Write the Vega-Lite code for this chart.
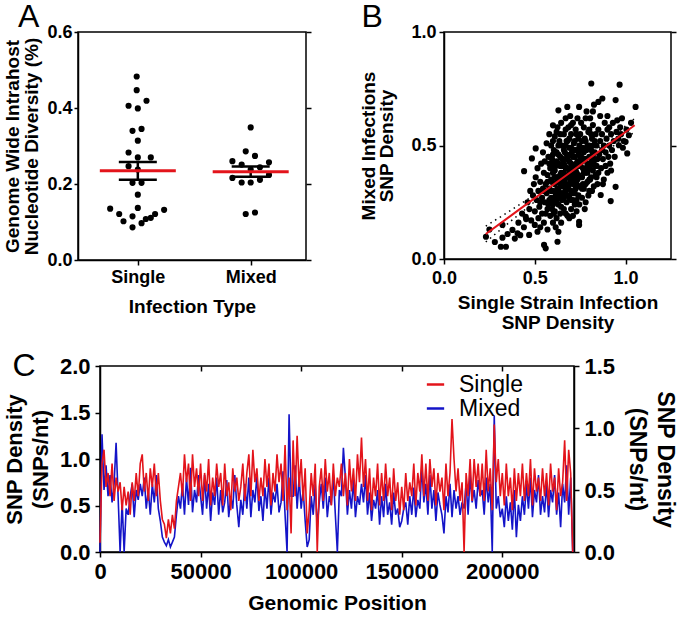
{
"$schema":"https://vega.github.io/schema/vega-lite/v6.json",
"padding":{"left":2,"top":0,"right":0,"bottom":0},
"config":{
 "font":"Liberation Sans",
 "view":{"stroke":"black","strokeWidth":1.5},
 "axis":{"grid":false,"domainColor":"black","domainWidth":1.5,"tickColor":"black","tickWidth":1.5,"tickSize":5,"labelColor":"black","labelFont":"Liberation Sans","labelFontWeight":"bold","labelFontSize":18,"titleColor":"black","titleFont":"Liberation Sans","titleFontWeight":"bold","titleFontSize":19,"labelPadding":3,"titlePadding":4,"labelFlush":false,"labelOverlap":false},
 "title":{"font":"Liberation Sans","fontSize":32,"fontWeight":"normal","color":"black","anchor":"start","frame":"bounds","baseline":"alphabetic","offset":5}
},
"datasets":{
 "divA":[
  {"g":"Single","x":0.99,"v":0.483},{"g":"Single","x":0.99,"v":0.447},{"g":"Single","x":1.077,"v":0.419},{"g":"Single","x":0.918,"v":0.406},{"g":"Single","x":1.0,"v":0.399},{"g":"Single","x":0.953,"v":0.34},{"g":"Single","x":1.033,"v":0.345},{"g":"Single","x":1.0,"v":0.314},{"g":"Single","x":0.918,"v":0.283},{"g":"Single","x":1.0,"v":0.27},{"g":"Single","x":1.115,"v":0.27},{"g":"Single","x":0.918,"v":0.247},{"g":"Single","x":1.0,"v":0.238},{"g":"Single","x":0.953,"v":0.203},{"g":"Single","x":1.033,"v":0.203},{"g":"Single","x":1.0,"v":0.172},{"g":"Single","x":1.0,"v":0.137},{"g":"Single","x":0.755,"v":0.135},{"g":"Single","x":0.835,"v":0.121},{"g":"Single","x":0.953,"v":0.115},{"g":"Single","x":1.233,"v":0.132},{"g":"Single","x":1.153,"v":0.121},{"g":"Single","x":1.071,"v":0.108},{"g":"Single","x":1.115,"v":0.111},{"g":"Single","x":0.873,"v":0.102},{"g":"Single","x":1.033,"v":0.097},{"g":"Single","x":0.953,"v":0.086},
  {"g":"Mixed","x":2.0,"v":0.349},{"g":"Mixed","x":1.956,"v":0.286},{"g":"Mixed","x":2.038,"v":0.274},{"g":"Mixed","x":1.838,"v":0.26},{"g":"Mixed","x":1.92,"v":0.251},{"g":"Mixed","x":2.082,"v":0.244},{"g":"Mixed","x":2.162,"v":0.257},{"g":"Mixed","x":2.0,"v":0.238},{"g":"Mixed","x":1.838,"v":0.216},{"g":"Mixed","x":1.92,"v":0.204},{"g":"Mixed","x":2.0,"v":0.204},{"g":"Mixed","x":2.082,"v":0.211},{"g":"Mixed","x":2.162,"v":0.224},{"g":"Mixed","x":1.956,"v":0.121},{"g":"Mixed","x":2.038,"v":0.125}
 ],
 "sumA":[{"g":"Single","x":1,"mean":0.235,"lo":0.211,"hi":0.258},{"g":"Mixed","x":2,"mean":0.232,"lo":0.219,"hi":0.246}],
 "fit":[{"x":0.23,"fit":0.11,"lo":0.075,"hi":0.145},{"x":0.35,"fit":0.18,"lo":0.155,"hi":0.205},{"x":0.5,"fit":0.268,"lo":0.253,"hi":0.283},{"x":0.67,"fit":0.367,"lo":0.357,"hi":0.377},{"x":0.85,"fit":0.472,"lo":0.455,"hi":0.489},{"x":1.05,"fit":0.589,"lo":0.559,"hi":0.619}],
 "sc":[
  {"x":0.231,"y":0.098},{"x":0.25,"y":0.13},{"x":0.28,"y":0.075},{"x":0.313,"y":0.054},{"x":0.322,"y":0.094},{"x":0.341,"y":0.054},{"x":0.322,"y":0.15},{"x":0.35,"y":0.11},{"x":0.377,"y":0.128},{"x":0.39,"y":0.09},{"x":0.405,"y":0.113},{"x":0.41,"y":0.16},{"x":0.42,"y":0.105},{"x":0.43,"y":0.2},{"x":0.441,"y":0.387},{"x":0.44,"y":0.14},{"x":0.45,"y":0.186},{"x":0.452,"y":0.176},{"x":0.46,"y":0.25},{"x":0.469,"y":0.106},{"x":0.47,"y":0.22},{"x":0.475,"y":0.3},
  {"x":0.484,"y":0.443},{"x":0.505,"y":0.487},{"x":0.48,"y":0.17},{"x":0.49,"y":0.28},{"x":0.495,"y":0.33},{"x":0.5,"y":0.15},{"x":0.5,"y":0.21},{"x":0.505,"y":0.36},{"x":0.51,"y":0.26},{"x":0.515,"y":0.12},{"x":0.515,"y":0.4},{"x":0.52,"y":0.18},{"x":0.52,"y":0.3},{"x":0.525,"y":0.23},{"x":0.53,"y":0.34},{"x":0.53,"y":0.14},{"x":0.535,"y":0.42},{"x":0.54,"y":0.27},{"x":0.54,"y":0.2},{"x":0.545,"y":0.31},{"x":0.545,"y":0.47},{"x":0.55,"y":0.38},{"x":0.55,"y":0.16},{"x":0.551,"y":0.062},{"x":0.56,"y":0.047},{"x":0.555,"y":0.25},{"x":0.555,"y":0.43},{"x":0.56,"y":0.33},{"x":0.56,"y":0.2},{"x":0.565,"y":0.29},{"x":0.565,"y":0.51},{"x":0.57,"y":0.37},{"x":0.57,"y":0.13},{"x":0.575,"y":0.24},{"x":0.575,"y":0.45},{"x":0.58,"y":0.31},{"x":0.58,"y":0.55},{"x":0.585,"y":0.19},{"x":0.585,"y":0.4},{"x":0.59,"y":0.27},
  {"x":0.59,"y":0.35},{"x":0.59,"y":0.5},{"x":0.595,"y":0.22},{"x":0.595,"y":0.44},{"x":0.6,"y":0.589},{"x":0.6,"y":0.3},{"x":0.6,"y":0.16},{"x":0.6,"y":0.38},{"x":0.605,"y":0.26},{"x":0.605,"y":0.48},{"x":0.61,"y":0.33},{"x":0.61,"y":0.21},{"x":0.61,"y":0.54},{"x":0.615,"y":0.41},{"x":0.615,"y":0.28},{"x":0.62,"y":0.36},{"x":0.62,"y":0.18},{"x":0.62,"y":0.47},{"x":0.625,"y":0.076},{"x":0.625,"y":0.31},{"x":0.625,"y":0.58},{"x":0.63,"y":0.655},{"x":0.63,"y":0.24},{"x":0.63,"y":0.42},{"x":0.635,"y":0.35},{"x":0.635,"y":0.52},{"x":0.64,"y":0.29},{"x":0.64,"y":0.2},{"x":0.64,"y":0.45},{"x":0.645,"y":0.38},{"x":0.645,"y":0.6},{"x":0.65,"y":0.32},{"x":0.65,"y":0.26},{"x":0.65,"y":0.5},{"x":0.6,"y":0.43},{"x":0.61,"y":0.39},{"x":0.62,"y":0.25},{"x":0.63,"y":0.3},{"x":0.64,"y":0.37},{"x":0.65,"y":0.41},{"x":0.595,"y":0.34},{"x":0.605,"y":0.2},{"x":0.615,"y":0.47},{"x":0.625,"y":0.36},{"x":0.635,"y":0.27},{"x":0.645,"y":0.23},{"x":0.6,"y":0.52},{"x":0.62,"y":0.56},{"x":0.64,"y":0.55},{"x":0.59,"y":0.41},{"x":0.61,"y":0.27},{"x":0.63,"y":0.46},{"x":0.65,"y":0.35},{"x":0.615,"y":0.14},{"x":0.645,"y":0.16},{"x":0.63,"y":0.12},
  {"x":0.655,"y":0.44},{"x":0.655,"y":0.29},{"x":0.66,"y":0.38},{"x":0.66,"y":0.55},{"x":0.66,"y":0.22},{"x":0.665,"y":0.34},{"x":0.665,"y":0.47},{"x":0.67,"y":0.62},{"x":0.67,"y":0.3},{"x":0.67,"y":0.4},{"x":0.675,"y":0.25},{"x":0.675,"y":0.52},{"x":0.679,"y":0.67},{"x":0.68,"y":0.36},{"x":0.68,"y":0.44},{"x":0.68,"y":0.19},{"x":0.685,"y":0.31},{"x":0.685,"y":0.58},{"x":0.69,"y":0.39},{"x":0.69,"y":0.27},{"x":0.69,"y":0.49},{"x":0.695,"y":0.35},{"x":0.695,"y":0.63},{"x":0.7,"y":0.42},{"x":0.7,"y":0.3},{"x":0.7,"y":0.22},{"x":0.7,"y":0.55},{"x":0.705,"y":0.37},{"x":0.705,"y":0.47},{"x":0.71,"y":0.33},{"x":0.71,"y":0.6},{"x":0.71,"y":0.26},{"x":0.715,"y":0.41},{"x":0.715,"y":0.51},{"x":0.72,"y":0.36},{"x":0.72,"y":0.29},{"x":0.72,"y":0.45},{"x":0.725,"y":0.57},{"x":0.725,"y":0.39},{"x":0.73,"y":0.33},{"x":0.73,"y":0.48},{"x":0.73,"y":0.21},{"x":0.735,"y":0.43},{"x":0.735,"y":0.62},{"x":0.74,"y":0.37},{"x":0.74,"y":0.28},{"x":0.744,"y":0.67},{"x":0.744,"y":0.15},{"x":0.744,"y":0.164},{"x":0.745,"y":0.5},{"x":0.75,"y":0.41},{"x":0.75,"y":0.32},{"x":0.75,"y":0.55},{"x":0.66,"y":0.32},{"x":0.67,"y":0.5},{"x":0.68,"y":0.28},{"x":0.69,"y":0.43},{"x":0.7,"y":0.36},{"x":0.71,"y":0.45},{"x":0.72,"y":0.4},{"x":0.73,"y":0.38},{"x":0.74,"y":0.46},{"x":0.665,"y":0.41},{"x":0.675,"y":0.46},{"x":0.685,"y":0.37},{"x":0.695,"y":0.46},{"x":0.705,"y":0.29},{"x":0.715,"y":0.35},{"x":0.725,"y":0.31},{"x":0.735,"y":0.35},{"x":0.745,"y":0.24},{"x":0.655,"y":0.36},{"x":0.68,"y":0.52},{"x":0.7,"y":0.49},{"x":0.72,"y":0.52},{"x":0.74,"y":0.53},{"x":0.67,"y":0.2},{"x":0.69,"y":0.18},{"x":0.71,"y":0.19},{"x":0.73,"y":0.26},
  {"x":0.755,"y":0.45},{"x":0.755,"y":0.6},{"x":0.76,"y":0.36},{"x":0.76,"y":0.27},{"x":0.765,"y":0.49},{"x":0.765,"y":0.4},{"x":0.77,"y":0.58},{"x":0.77,"y":0.31},{"x":0.775,"y":0.44},{"x":0.775,"y":0.53},{"x":0.78,"y":0.38},{"x":0.78,"y":0.25},{"x":0.785,"y":0.48},{"x":0.785,"y":0.65},{"x":0.79,"y":0.34},{"x":0.79,"y":0.42},{"x":0.795,"y":0.56},{"x":0.8,"y":0.4},{"x":0.8,"y":0.3},{"x":0.8,"y":0.5},{"x":0.805,"y":0.62},{"x":0.805,"y":0.45},{"x":0.81,"y":0.36},{"x":0.811,"y":0.773},{"x":0.815,"y":0.43},{"x":0.815,"y":0.53},{"x":0.82,"y":0.39},{"x":0.82,"y":0.59},{"x":0.825,"y":0.32},{"x":0.826,"y":0.68},{"x":0.83,"y":0.47},{"x":0.83,"y":0.41},{"x":0.835,"y":0.55},{"x":0.84,"y":0.36},{"x":0.84,"y":0.5},{"x":0.845,"y":0.44},{"x":0.85,"y":0.692},{"x":0.85,"y":0.38},{"x":0.85,"y":0.57},{"x":0.76,"y":0.52},{"x":0.77,"y":0.47},{"x":0.78,"y":0.33},{"x":0.79,"y":0.5},{"x":0.8,"y":0.45},{"x":0.81,"y":0.55},{"x":0.82,"y":0.46},{"x":0.83,"y":0.52},{"x":0.84,"y":0.41},{"x":0.765,"y":0.33},{"x":0.785,"y":0.4},{"x":0.805,"y":0.35},{"x":0.825,"y":0.43},{"x":0.845,"y":0.33},{"x":0.775,"y":0.22},{"x":0.795,"y":0.28},{"x":0.815,"y":0.3},{"x":0.835,"y":0.37},{"x":0.78,"y":0.62},{"x":0.8,"y":0.57},{"x":0.82,"y":0.65},
  {"x":0.855,"y":0.46},{"x":0.86,"y":0.52},{"x":0.863,"y":0.282},{"x":0.865,"y":0.4},{"x":0.87,"y":0.55},{"x":0.872,"y":0.707},{"x":0.875,"y":0.44},{"x":0.88,"y":0.5},{"x":0.88,"y":0.35},{"x":0.885,"y":0.6},{"x":0.89,"y":0.47},{"x":0.89,"y":0.41},{"x":0.895,"y":0.53},{"x":0.9,"y":0.38},{"x":0.9,"y":0.57},{"x":0.905,"y":0.45},{"x":0.91,"y":0.5},{"x":0.915,"y":0.42},{"x":0.918,"y":0.255},{"x":0.92,"y":0.55},{"x":0.925,"y":0.48},{"x":0.93,"y":0.6},{"x":0.935,"y":0.52},{"x":0.94,"y":0.45},{"x":0.945,"y":0.7},{"x":0.945,"y":0.318},{"x":0.95,"y":0.56},{"x":0.954,"y":0.611},{"x":0.86,"y":0.63},{"x":0.875,"y":0.33},{"x":0.9,"y":0.63},{"x":0.92,"y":0.39},{"x":0.87,"y":0.48},{"x":0.91,"y":0.58},
  {"x":0.96,"y":0.53},{"x":0.963,"y":0.501},{"x":0.967,"y":0.768},{"x":0.97,"y":0.58},{"x":0.975,"y":0.55},{"x":0.98,"y":0.62},{"x":0.99,"y":0.52},{"x":1.0,"y":0.516},{"x":1.005,"y":0.57},{"x":1.009,"y":0.465},{"x":1.018,"y":0.545},{"x":1.03,"y":0.6},{"x":1.055,"y":0.67},{"x":0.985,"y":0.49},
  {"x":0.57,"y":0.34},{"x":0.58,"y":0.42},{"x":0.59,"y":0.3},{"x":0.6,"y":0.46},{"x":0.61,"y":0.36},{"x":0.62,"y":0.43},{"x":0.63,"y":0.34},{"x":0.64,"y":0.41},{"x":0.65,"y":0.44},{"x":0.66,"y":0.42},{"x":0.67,"y":0.36},{"x":0.68,"y":0.4},{"x":0.69,"y":0.33},{"x":0.7,"y":0.4},{"x":0.71,"y":0.38},{"x":0.72,"y":0.33},{"x":0.73,"y":0.42},{"x":0.74,"y":0.41},{"x":0.75,"y":0.45},{"x":0.76,"y":0.43},{"x":0.77,"y":0.38},{"x":0.78,"y":0.44},{"x":0.79,"y":0.38},{"x":0.8,"y":0.35},{"x":0.81,"y":0.48},{"x":0.82,"y":0.5},{"x":0.83,"y":0.44},{"x":0.58,"y":0.26},{"x":0.6,"y":0.24},{"x":0.62,"y":0.29},{"x":0.64,"y":0.33},{"x":0.66,"y":0.27},{"x":0.68,"y":0.32},{"x":0.7,"y":0.26},{"x":0.72,"y":0.24},{"x":0.74,"y":0.32},{"x":0.76,"y":0.31},{"x":0.63,"y":0.5},{"x":0.66,"y":0.48},{"x":0.69,"y":0.53},{"x":0.72,"y":0.48},{"x":0.75,"y":0.48},{"x":0.78,"y":0.52},{"x":0.81,"y":0.42},{"x":0.57,"y":0.22},{"x":0.55,"y":0.3},{"x":0.53,"y":0.25},{"x":0.67,"y":0.57},{"x":0.7,"y":0.59},{"x":0.73,"y":0.55}
 ],
 "gen":[
  {"p":0,"s":0.1,"m":0},{"p":1000,"s":0.95,"m":0.95},{"p":2000,"s":1.1,"m":0.5},{"p":3000,"s":0.7,"m":0.7},{"p":4000,"s":0.85,"m":0.45},{"p":5000,"s":0.6,"m":0.62},{"p":6000,"s":0.95,"m":0.4},{"p":7000,"s":0.55,"m":0.55},{"p":8000,"s":0.8,"m":0.88},{"p":9000,"s":0.65,"m":0.45},
  {"p":10000,"s":0.75,"m":0},{"p":11000,"s":0.45,"m":0.4},{"p":12000,"s":0.7,"m":0},{"p":13000,"s":0.5,"m":0.35},{"p":14000,"s":0.65,"m":0.3},{"p":15000,"s":0.4,"m":0.45},{"p":16000,"s":0.75,"m":0.55},{"p":17000,"s":0.55,"m":0.28},{"p":18000,"s":0.85,"m":0.5},{"p":19000,"s":0.6,"m":0.42},
  {"p":20000,"s":0.95,"m":0.55},{"p":21000,"s":1.05,"m":0.45},{"p":22000,"s":0.65,"m":0.6},{"p":23000,"s":0.85,"m":0.35},{"p":24000,"s":0.55,"m":0.5},{"p":25000,"s":0.9,"m":0.3},{"p":26000,"s":0.7,"m":0.55},{"p":27000,"s":0.95,"m":0.4},{"p":28000,"s":0.6,"m":0.62},{"p":29000,"s":0.85,"m":0.35},
  {"p":30000,"s":0.55,"m":0.25},{"p":31000,"s":0.35,"m":0.12},{"p":32000,"s":0.3,"m":0.08},{"p":33000,"s":0.15,"m":0.05},{"p":34000,"s":0.35,"m":0.1},{"p":35000,"s":0.2,"m":0.04},{"p":36000,"s":0.4,"m":0.08},{"p":37000,"s":0.25,"m":0.12},{"p":38000,"s":0.55,"m":0.3},{"p":39000,"s":0.7,"m":0.45},
  {"p":40000,"s":0.85,"m":0.35},{"p":41000,"s":0.6,"m":0.55},{"p":42000,"s":1.05,"m":0.3},{"p":43000,"s":0.75,"m":0.6},{"p":44000,"s":0.95,"m":0.38},{"p":45000,"s":0.55,"m":0.68},{"p":46000,"s":1.05,"m":0.32},{"p":47000,"s":0.7,"m":0.5},{"p":48000,"s":0.9,"m":0.4},{"p":49000,"s":0.6,"m":0.62},
  {"p":50000,"s":0.95,"m":0.45},{"p":51000,"s":0.55,"m":0.3},{"p":52000,"s":0.85,"m":0.62},{"p":53000,"s":0.65,"m":0.35},{"p":54000,"s":1.0,"m":0.55},{"p":55000,"s":0.5,"m":0.25},{"p":56000,"s":0.8,"m":0.48},{"p":57000,"s":0.6,"m":0.38},{"p":58000,"s":0.95,"m":0.6},{"p":59000,"s":0.7,"m":0.3},
  {"p":60000,"s":0.85,"m":0.5},{"p":61000,"s":0.5,"m":0.32},{"p":62000,"s":0.95,"m":0.4},{"p":63000,"s":0.6,"m":0.58},{"p":64000,"s":0.75,"m":0.28},{"p":65000,"s":0.45,"m":0.45},{"p":66000,"s":0.9,"m":0.35},{"p":67000,"s":0.65,"m":0.62},{"p":68000,"s":0.8,"m":0.38},{"p":69000,"s":0.55,"m":0.2},
  {"p":70000,"s":0.7,"m":0.42},{"p":71000,"s":0.95,"m":0.3},{"p":72000,"s":0.55,"m":0.55},{"p":73000,"s":0.85,"m":0.35},{"p":74000,"s":1.05,"m":0.6},{"p":75000,"s":0.6,"m":0.28},{"p":76000,"s":1.1,"m":0.5},{"p":77000,"s":0.75,"m":0.4},{"p":78000,"s":0.9,"m":0.62},{"p":79000,"s":0.55,"m":0.33},
  {"p":80000,"s":0.8,"m":0.45},{"p":81000,"s":0.6,"m":0.25},{"p":82000,"s":1.0,"m":0.52},{"p":83000,"s":0.7,"m":0.35},{"p":84000,"s":0.95,"m":0.6},{"p":85000,"s":0.5,"m":0.3},{"p":86000,"s":0.85,"m":0.48},{"p":87000,"s":0.65,"m":0.4},{"p":88000,"s":1.05,"m":0.55},{"p":89000,"s":0.75,"m":0.32},
  {"p":90000,"s":0.95,"m":0.4},{"p":91000,"s":0.55,"m":0.65},{"p":92000,"s":1.15,"m":0.3},{"p":93000,"s":0.45,"m":0},{"p":94000,"s":0.8,"m":1.11},{"p":95000,"s":0.2,"m":0.45},{"p":96000,"s":1.2,"m":0.45},{"p":97000,"s":0.6,"m":0.7},{"p":98000,"s":1.25,"m":0.35},{"p":99000,"s":0.7,"m":0.6},
  {"p":100000,"s":1.0,"m":0.35},{"p":101000,"s":0.55,"m":0.5},{"p":102000,"s":0.9,"m":0.25},{"p":103000,"s":0.2,"m":0.04},{"p":104000,"s":0.45,"m":0.1},{"p":105000,"s":0.85,"m":0.45},{"p":106000,"s":0.6,"m":0.3},{"p":107000,"s":0.95,"m":0.55},{"p":108000,"s":0,"m":0.2},{"p":109000,"s":0.7,"m":0.4},
  {"p":110000,"s":0.9,"m":0.55},{"p":111000,"s":0.55,"m":0.35},{"p":112000,"s":1.0,"m":0.6},{"p":113000,"s":0.65,"m":0.28},{"p":114000,"s":0.85,"m":0.45},{"p":115000,"s":0.5,"m":0.38},{"p":116000,"s":0.95,"m":0.62},{"p":117000,"s":0.6,"m":0.3},{"p":118000,"s":0.8,"m":0},{"p":119000,"s":0.7,"m":0.5},
  {"p":120000,"s":0.95,"m":0.45},{"p":121000,"s":0.6,"m":0.84},{"p":122000,"s":0.85,"m":0.6},{"p":123000,"s":0.5,"m":0.3},{"p":124000,"s":1.0,"m":0.5},{"p":125000,"s":0.65,"m":0.35},{"p":126000,"s":0.9,"m":0.58},{"p":127000,"s":0.55,"m":0.28},{"p":128000,"s":1.05,"m":0.45},{"p":129000,"s":0.75,"m":0.38},
  {"p":130000,"s":1.23,"m":0.55},{"p":131000,"s":0.7,"m":0.4},{"p":132000,"s":1.0,"m":0.62},{"p":133000,"s":0.55,"m":0.3},{"p":134000,"s":0.9,"m":0.48},{"p":135000,"s":0.45,"m":0.25},{"p":136000,"s":0.8,"m":0.42},{"p":137000,"s":0.6,"m":0.35},{"p":138000,"s":0.95,"m":0.5},{"p":139000,"s":0.5,"m":0.22},
  {"p":140000,"s":0.85,"m":0.45},{"p":141000,"s":0.55,"m":0.28},{"p":142000,"s":0.95,"m":0.55},{"p":143000,"s":0.6,"m":0.3},{"p":144000,"s":0.8,"m":0.4},{"p":145000,"s":0.45,"m":0.22},{"p":146000,"s":0.9,"m":0.48},{"p":147000,"s":0.55,"m":0.3},{"p":148000,"s":0.75,"m":0.35},{"p":149000,"s":0.4,"m":0.2},
  {"p":150000,"s":0.7,"m":0.25},{"p":151000,"s":0.45,"m":0.35},{"p":152000,"s":0.85,"m":0.4},{"p":153000,"s":0.55,"m":0.22},{"p":154000,"s":0.75,"m":0.45},{"p":155000,"s":0.6,"m":0.3},{"p":156000,"s":0.95,"m":0.52},{"p":157000,"s":0.5,"m":0.28},{"p":158000,"s":0.85,"m":0.42},{"p":159000,"s":0.65,"m":0.35},
  {"p":160000,"s":1.05,"m":0.7},{"p":161000,"s":0.6,"m":0.4},{"p":162000,"s":0.95,"m":0.55},{"p":163000,"s":0.55,"m":0.3},{"p":164000,"s":1.0,"m":0.62},{"p":165000,"s":0.7,"m":0.35},{"p":166000,"s":0.9,"m":0.5},{"p":167000,"s":0.5,"m":0.25},{"p":168000,"s":0.85,"m":0.48},{"p":169000,"s":0.65,"m":0.38},
  {"p":170000,"s":0.8,"m":0.3},{"p":171000,"s":0.45,"m":0.15},{"p":172000,"s":0.95,"m":0.45},{"p":173000,"s":0.6,"m":0.32},{"p":174000,"s":0.85,"m":0.55},{"p":175000,"s":1.43,"m":0.28},{"p":176000,"s":1.0,"m":0.5},{"p":177000,"s":0.65,"m":0.35},{"p":178000,"s":0.9,"m":0.45},{"p":179000,"s":0.55,"m":0.3},
  {"p":180000,"s":0.75,"m":0.4},{"p":181000,"s":0,"m":0.35},{"p":182000,"s":0.85,"m":0.55},{"p":183000,"s":0.6,"m":0.3},{"p":184000,"s":1.0,"m":0.62},{"p":185000,"s":0.55,"m":0.4},{"p":186000,"s":1.0,"m":0.5},{"p":187000,"s":0.7,"m":0.35},{"p":188000,"s":0.95,"m":0.58},{"p":189000,"s":0.6,"m":0.45},
  {"p":190000,"s":0.95,"m":0.5},{"p":191000,"s":0.55,"m":0.3},{"p":192000,"s":1.1,"m":0.6},{"p":193000,"s":0.65,"m":0.4},{"p":194000,"s":0.9,"m":0.55},{"p":195000,"s":0.45,"m":0},{"p":196000,"s":1.37,"m":1.1},{"p":197000,"s":0.75,"m":0.35},{"p":198000,"s":1.0,"m":0.45},{"p":199000,"s":0.6,"m":0.28},
  {"p":200000,"s":0.85,"m":0.35},{"p":201000,"s":0.5,"m":0.2},{"p":202000,"s":0.95,"m":0.45},{"p":203000,"s":0.6,"m":0.25},{"p":204000,"s":0.8,"m":0.4},{"p":205000,"s":0.45,"m":0.18},{"p":206000,"s":0.9,"m":0.5},{"p":207000,"s":0.55,"m":0.12},{"p":208000,"s":0.85,"m":0.38},{"p":209000,"s":0.6,"m":0.25},
  {"p":210000,"s":0.95,"m":0.45},{"p":211000,"s":0.55,"m":0.3},{"p":212000,"s":0.85,"m":0.55},{"p":213000,"s":0.6,"m":0.35},{"p":214000,"s":1.0,"m":0.6},{"p":215000,"s":0.5,"m":0.28},{"p":216000,"s":0.9,"m":0.5},{"p":217000,"s":0.65,"m":0.4},{"p":218000,"s":0.8,"m":0.62},{"p":219000,"s":0.55,"m":0.3},
  {"p":220000,"s":0.9,"m":0.45},{"p":221000,"s":0.6,"m":0.32},{"p":222000,"s":0.85,"m":0.55},{"p":223000,"s":0.5,"m":0.28},{"p":224000,"s":0.95,"m":0.5},{"p":225000,"s":0.65,"m":0.4},{"p":226000,"s":0.8,"m":0.62},{"p":227000,"s":0.45,"m":0.3},{"p":228000,"s":0.9,"m":0.48},{"p":229000,"s":0.6,"m":0.2},
  {"p":230000,"s":0.75,"m":0.55},{"p":231000,"s":1.2,"m":0.4},{"p":232000,"s":0.55,"m":0.7},{"p":233000,"s":1.1,"m":0.3},{"p":234000,"s":0.85,"m":0.6},{"p":235000,"s":0,"m":0}
 ]
},
"resolve":{"scale":{"color":"independent"},"legend":{"color":"independent"}},
"spacing":16,
"vconcat":[
 {"spacing":45,"hconcat":[
  {"width":228,"height":228,
   "title":{"text":"A","dx":14,"dy":16},
   "layer":[
    {"data":{"name":"divA"},"mark":{"type":"circle","size":38,"opacity":1,"color":"black"},
     "encoding":{
      "x":{"field":"x","type":"quantitative","scale":{"domain":[0.47,2.49],"nice":false,"zero":false},"axis":{"values":[1,2],"labelExpr":"datum.value == 1 ? 'Single' : 'Mixed'","title":"Infection  Type","titlePadding":11,"labelPadding":3}},
      "y":{"field":"v","type":"quantitative","scale":{"domain":[0,0.6],"nice":false},"axis":{"values":[0,0.2,0.4,0.6],"format":".1f","title":["Genome Wide  Intrahost","Nucleotide Diversity (%)"],"titleLineHeight":19,"tickSize":4,"labelPadding":2,"titlePadding":5}}}},
    {"data":{"name":"sumA"},"mark":{"type":"rule","strokeWidth":2.5,"color":"black"},
     "encoding":{"x":{"field":"x","type":"quantitative"},"y":{"field":"lo","type":"quantitative","axis":{"orient":"right","labels":false,"title":null,"domain":false,"values":[0,0.2,0.4,0.6]}},"y2":{"field":"hi"}}},
    {"data":{"name":"sumA"},"mark":{"type":"tick","orient":"horizontal","thickness":2.5,"size":38,"color":"black","opacity":1},
     "encoding":{"x":{"field":"x","type":"quantitative"},"y":{"field":"lo","type":"quantitative","axis":null}}},
    {"data":{"name":"sumA"},"mark":{"type":"tick","orient":"horizontal","thickness":2.5,"size":38,"color":"black","opacity":1},
     "encoding":{"x":{"field":"x","type":"quantitative"},"y":{"field":"hi","type":"quantitative","axis":null}}},
    {"data":{"name":"sumA"},"mark":{"type":"tick","orient":"horizontal","thickness":3,"size":76,"color":"#e3141b","opacity":1},
     "encoding":{"x":{"field":"x","type":"quantitative"},"y":{"field":"mean","type":"quantitative","axis":null}}}
   ],
   "resolve":{"axis":{"y":"independent"}}},
  {"width":227,"height":227,
   "title":{"text":"B","dx":2,"dy":16},
   "layer":[
    {"data":{"name":"sc"},"mark":{"type":"circle","size":38,"opacity":1,"color":"black"},
     "encoding":{
      "x":{"field":"x","type":"quantitative","scale":{"domain":[0,1.25],"nice":false},"axis":{"values":[0,0.5,1],"format":".1f","title":["Single  Strain Infection","SNP  Density"],"titlePadding":6,"labelPadding":5,"titleLineHeight":20}},
      "y":{"field":"y","type":"quantitative","scale":{"domain":[0,1],"nice":false},"axis":{"values":[0,0.5,1],"format":".1f","title":["Mixed  Infections","SNP  Density"],"titleLineHeight":18.5,"titlePadding":14}}}},
    {"data":{"name":"fit"},"mark":{"type":"line","color":"black","strokeWidth":1.5,"strokeDash":[1.5,4]},
     "encoding":{"x":{"field":"x","type":"quantitative"},"y":{"field":"lo","type":"quantitative","axis":{"orient":"right","labels":false,"title":null,"domain":false,"values":[0,0.5,1]}}}},
    {"data":{"name":"fit"},"mark":{"type":"line","color":"black","strokeWidth":1.5,"strokeDash":[1.5,4]},
     "encoding":{"x":{"field":"x","type":"quantitative"},"y":{"field":"hi","type":"quantitative","axis":null}}},
    {"data":{"name":"fit"},"mark":{"type":"line","color":"#e3141b","strokeWidth":2},
     "encoding":{"x":{"field":"x","type":"quantitative"},"y":{"field":"fit","type":"quantitative","axis":null}}}
   ],
   "resolve":{"axis":{"y":"independent"}}}
 ]},
 {"spacing":-80,"hconcat":[
  {"width":1,"height":1,"view":{"stroke":null},"data":{"values":[{"k":0}]},"mark":{"type":"point","opacity":0},"encoding":{}},
  {"width":474,"height":186,
   "title":{"text":"C","dx":9,"offset":0,"dy":28},
   "layer":[
    {"data":{"name":"gen"},"mark":{"type":"line","strokeWidth":1.6},
     "encoding":{
      "x":{"field":"p","type":"quantitative","scale":{"domain":[0,235646],"nice":false,"zero":false},"axis":{"orient":"top","labels":false,"title":null,"domain":false,"tickSize":-5,"values":[50000,100000,150000,200000]}},
      "y":{"field":"m","type":"quantitative","scale":{"domain":[0,1.5],"nice":false},"axis":{"orient":"right","values":[0,0.5,1,1.5],"format":".1f","title":["SNP  Density","(SNPs/nt)"],"labelFontSize":22,"labelPadding":5,"titleFontSize":23,"titleLineHeight":28,"titlePadding":10}},
      "color":{"datum":"Mixed","type":"nominal","scale":{"domain":["Single","Mixed"],"range":["#e3141b","#1414c8"]},
       "legend":{"title":null,"orient":"none","legendX":346,"legendY":7,"labelFontSize":23,"labelFontWeight":"normal","labelFont":"Liberation Sans","labelColor":"black","symbolType":"stroke","symbolStrokeWidth":2.5,"symbolSize":300,"labelOffset":12,"rowPadding":-3}}}},
    {"data":{"name":"gen"},"mark":{"type":"line","strokeWidth":1.6},
     "encoding":{
      "x":{"field":"p","type":"quantitative","axis":{"values":[0,50000,100000,150000,200000],"format":"d","title":"Genomic Position","labelFontSize":22,"labelPadding":4,"titleFontSize":21,"titlePadding":10}},
      "y":{"field":"s","type":"quantitative","scale":{"domain":[0,2],"nice":false},"axis":{"orient":"left","values":[0,0.5,1,1.5,2],"format":".1f","title":["SNP  Density","(SNPs/nt)"],"labelFontSize":22,"labelPadding":5,"titleFontSize":22,"titleLineHeight":26,"titlePadding":7}},
      "color":{"datum":"Single","type":"nominal"}}}
   ],
   "resolve":{"scale":{"y":"independent"},"axis":{"x":"independent"}}}
 ]}
]
}
